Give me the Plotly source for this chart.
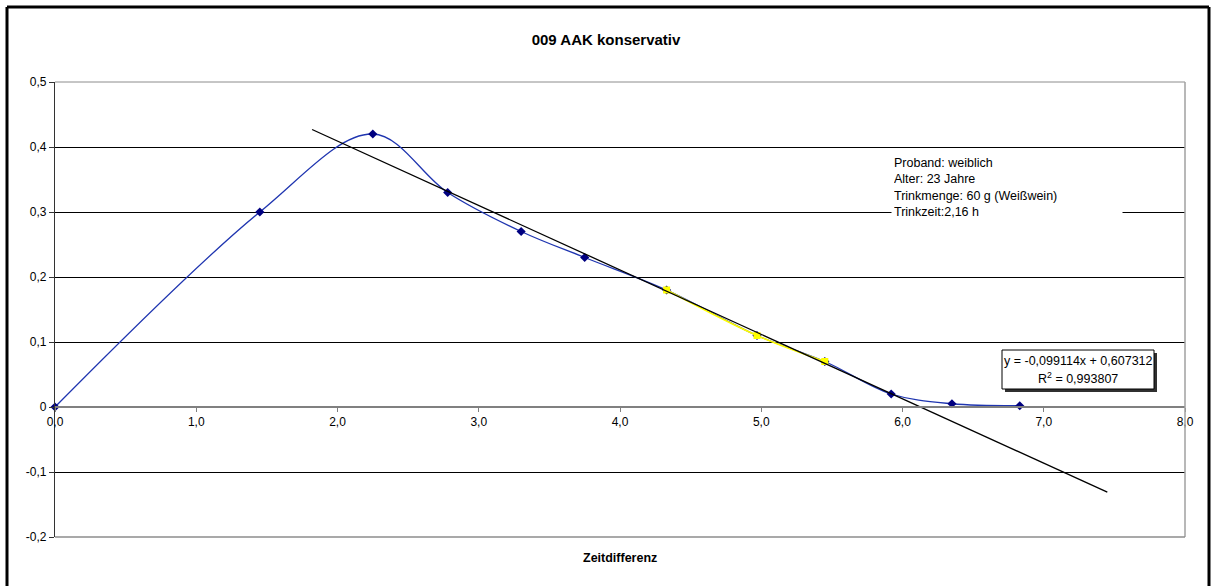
import plotly.graph_objects as go

# Measured concentration over time difference
zeit = [0.0, 1.45, 2.25, 2.78, 3.30, 3.75, 4.33, 4.97, 5.45, 5.92, 6.35, 6.83]
wert = [0.0, 0.30, 0.42, 0.33, 0.27, 0.23, 0.18, 0.11, 0.07, 0.02, 0.005, 0.002]

# Elimination phase points used for the linear fit
zeit_fit = [4.33, 4.97, 5.45]
wert_fit = [0.18, 0.11, 0.07]

# Linear trend line
steigung = -0.099114
achsenabschnitt = 0.607312
r_quadrat = 0.993807
trend_von_bis = [1.82, 7.45]

x_ticks = [0, 1, 2, 3, 4, 5, 6, 7, 8]
x_ticktext = ["0,0", "1,0", "2,0", "3,0", "4,0", "5,0", "6,0", "7,0", "8,0"]
y_ticks = [-0.2, -0.1, 0.0, 0.1, 0.2, 0.3, 0.4, 0.5]
y_ticktext = ["-0,2", "-0,1", "0", "0,1", "0,2", "0,3", "0,4", "0,5"]

info_text = ["Proband: weiblich", "Alter: 23 Jahre",
             "Trinkmenge: 60 g (Weißwein)", "Trinkzeit:2,16 h"]

FONT = "Arial, Liberation Sans, sans-serif"


def de(v, digits=6):
    return f"{v:.{digits}f}".replace(".", ",")


trend_y = [steigung * x + achsenabschnitt for x in trend_von_bis]

fig = go.Figure()

fig.add_trace(go.Scatter(
    x=zeit, y=wert, mode="lines+markers",
    line=dict(color="#1f35b0", width=1.3, shape="spline", smoothing=1.0),
    marker=dict(symbol="diamond", size=7, color="#000080", line=dict(width=0)),
    cliponaxis=False, showlegend=False, hoverinfo="x+y",
))

fig.add_trace(go.Scatter(
    x=zeit_fit, y=wert_fit, mode="lines+markers",
    line=dict(color="#ffff00", width=1.6, shape="spline"),
    marker=dict(symbol="square", size=7, color="#ffff00", line=dict(width=0)),
    showlegend=False, hoverinfo="x+y",
))

fig.add_trace(go.Scatter(
    x=trend_von_bis, y=trend_y, mode="lines",
    line=dict(color="#000000", width=1.3),
    showlegend=False, hoverinfo="skip",
))

# Pixel helpers for plot geometry (plot area 1130 x 455 px)
PW, PH = 1130.0, 455.0


def px(xpix):
    return (xpix - 55) / PW


def py(ypix):
    return (537 - ypix) / PH


shapes = [
    # outer chart frame
    dict(type="line", xref="paper", yref="paper", x0=px(7), x1=px(7), y0=py(7), y1=py(600),
         line=dict(color="#000", width=3)),
    dict(type="line", xref="paper", yref="paper", x0=px(7), x1=px(1209), y0=py(7), y1=py(7),
         line=dict(color="#000", width=3)),
    dict(type="line", xref="paper", yref="paper", x0=px(1209), x1=px(1209), y0=py(7), y1=py(600),
         line=dict(color="#000", width=3)),
    # plot area border (top, right, bottom)
    dict(type="line", xref="paper", yref="paper", x0=0, x1=1, y0=1, y1=1,
         line=dict(color="#8c8c8c", width=1)),
    dict(type="line", xref="paper", yref="paper", x0=1, x1=1, y0=0, y1=1,
         line=dict(color="#a0a0a0", width=1.5)),
    dict(type="line", xref="paper", yref="paper", x0=0, x1=1, y0=0, y1=0,
         line=dict(color="#8c8c8c", width=1.5)),
    # equation box with drop shadow
    dict(type="rect", xref="paper", yref="paper", x0=px(1005), x1=px(1157), y0=py(392), y1=py(353),
         line=dict(width=0), fillcolor="#303030"),
    dict(type="rect", xref="paper", yref="paper", x0=px(1002), x1=px(1154), y0=py(389), y1=py(350),
         line=dict(color="#000", width=1), fillcolor="#ffffff"),
]

annotations = [
    dict(text="<br>".join(info_text), xref="paper", yref="paper",
         x=px(891), y=py(188), xanchor="left", yanchor="middle", align="left",
         showarrow=False, bgcolor="#ffffff", width=226, borderpad=2,
         font=dict(family=FONT, size=12.5, color="#000")),
    dict(text=f"y = {de(steigung)}x + {de(achsenabschnitt)}", xref="paper", yref="paper",
         x=px(1078), y=py(361), xanchor="center", yanchor="middle", showarrow=False,
         font=dict(family=FONT, size=12.5, color="#000")),
    dict(text=f"R<sup>2</sup> = {de(r_quadrat)}", xref="paper", yref="paper",
         x=px(1078), y=py(378), xanchor="center", yanchor="middle", showarrow=False,
         font=dict(family=FONT, size=12.5, color="#000")),
    dict(text="<b>Zeitdifferenz</b>", xref="paper", yref="paper",
         x=0.5, y=py(558), xanchor="center", yanchor="middle", showarrow=False,
         font=dict(family=FONT, size=12.5, color="#000")),
]

fig.update_layout(
    width=1212, height=586,
    margin=dict(l=55, r=27, t=82, b=49),
    paper_bgcolor="#ffffff", plot_bgcolor="#ffffff",
    title=dict(text="<b>009 AAK konservativ</b>", x=0.5, xref="container",
               y=1 - 40 / 586, yref="container", xanchor="center", yanchor="middle",
               font=dict(family=FONT, size=15, color="#000")),
    font=dict(family=FONT, size=12, color="#000"),
    shapes=shapes, annotations=annotations,
    xaxis=dict(range=[0, 8], tickvals=x_ticks, ticktext=x_ticktext,
               anchor="free", position=0.2 / 0.7,
               showline=True, linecolor="#808080", linewidth=1.5,
               ticks="outside", ticklen=4, tickcolor="#808080",
               showgrid=False, zeroline=False, fixedrange=True,
               tickfont=dict(family=FONT, size=12, color="#000")),
    yaxis=dict(range=[-0.2, 0.5], tickvals=y_ticks, ticktext=y_ticktext,
               showline=True, linecolor="#333333", linewidth=1.3,
               ticks="outside", ticklen=5, tickcolor="#333333",
               showgrid=True, gridcolor="#000000", gridwidth=1,
               zeroline=False, fixedrange=True,
               tickfont=dict(family=FONT, size=12, color="#000")),
)

fig.write_html("out.html")
